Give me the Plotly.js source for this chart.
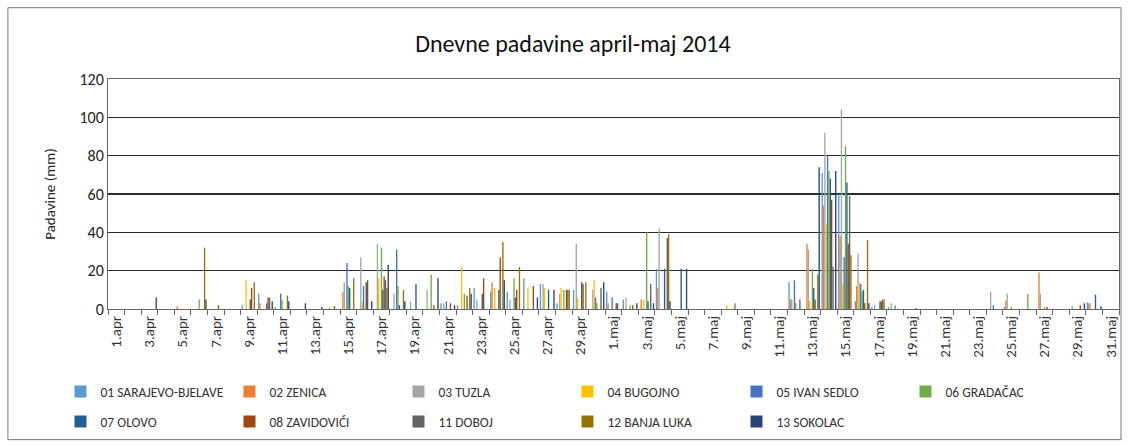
<!DOCTYPE html>
<html>
<head>
<meta charset="utf-8">
<script src="https://cdn.plot.ly/plotly-3.0.1.min.js"></script>
<style>html,body{margin:0;padding:0;background:#fff}#chart{width:1130px;height:446px}</style>
</head>
<body>
<div id="chart"></div>
<script>
// Categories (days)
const days = [
  "1.apr","2.apr","3.apr","4.apr","5.apr","6.apr","7.apr","8.apr","9.apr","10.apr",
  "11.apr","12.apr","13.apr","14.apr","15.apr","16.apr","17.apr","18.apr","19.apr","20.apr",
  "21.apr","22.apr","23.apr","24.apr","25.apr","26.apr","27.apr","28.apr","29.apr","30.apr",
  "1.maj","2.maj","3.maj","4.maj","5.maj","6.maj","7.maj","8.maj","9.maj","10.maj",
  "11.maj","12.maj","13.maj","14.maj","15.maj","16.maj","17.maj","18.maj","19.maj","20.maj",
  "21.maj","22.maj","23.maj","24.maj","25.maj","26.maj","27.maj","28.maj","29.maj","30.maj",
  "31.maj"
];

// Daily precipitation (mm) per station
const sarajevo = [0,0,0,0,0,0,0,0,2,8, 1,0,0,0,0,0,0,0,0,0, 3,2,11,9,9,16,13,3,10,0, 9,5,0,21,0,0,0,0,0,0, 0,14,0,71,60,4,1,1,0,0, 0,0,0,0,1,0,0,0,0,3.5, 0];
const zenica   = [0,0,0,0,1.5,0,0,0,0,3, 0,0,0,0,9,0,0,0,0,0, 0,0,0,14,0,0,0,0,0,0, 3,0,5,11,0,0,0,0,0,0, 0,5,34,54,38,12,0,0,0,0, 0,0,0,0,4.5,0,19,0,1.5,3, 0];
const tuzla    = [0,0,0,0,0,0,0,0,0,0, 0,0,0,0,14,27,34,8,4,10, 3,0,5,0,5,0,13,8,34,10, 0,6,0,42,0,0,0,0,0,0, 0,5,31,92,104,29,2,3,0,0, 0,0,0,9,8,0,8,0,0,3, 0];
const bugojno  = [0,0,0,0,0,0,0,0,15,0, 0,0,0,1,0,4,16,0,0,0, 0,22,0,11,0,11,11,11,6,15, 0,0,5,0,0,0,0,2,0,0, 0,0,4,44,13,14,0,0,0,0, 0,0,0,0,0,0,0,0,0,0, 0];
const ivanSedlo= [0,0,0,0,0,0,0,0,0,0, 8,0,0,0,24,12,0,31,0,0, 4,0,0,0,0,0,0,0,0,6, 6,0,0,0,0,0,0,0,0,0, 0,15,0,80,27,13,0,0,0,0, 0,0,0,2,0,0,0,0,0,0, 0];
const gradacac = [0,0,0,0,0,5,0,0,0,0, 5,0,0,0,12,0,32,12,0,18, 0,8,0,0,16,0,0,10,0,3, 0,2,40,0,0,0,0,0,0,0, 0,3,21,72,85,9,0,2,0,0, 0,0,0,0,1,8,1,0,0,0, 0];
const olovo    = [0,0,0,0,0,0,0,0,5,3, 0,0,0,0,11,14,10,2,13,0, 0,0,8,10,6,0,10,0,14,0, 0,0,4,21,21,0,0,0,0,0, 0,0,11,68,66,10,4,0,0,0, 0,0,0,0,0,0,0,0,0,7.5, 0];
const zavidovici=[0,0,0,0,0,0,2,0,11,6, 0,0,0,1.5,0,15,17,0,0,2, 3,7,16,27,10,12,0,10,13,0, 3,2,0,0,0,0,0,0,0,0, 0,0,5,57,34,3,4,0,0,0, 0,0,0,0,0,0,1,0,2,0, 0];
const doboj    = [0,0,0,0,0,0,0,0,0,6, 0,0,0,0,0,0,15,0,0,0, 0,0,0,0,0,0,0,10,0,11, 3,0,13,37,0,0,0,0,0,0, 0,5,0,22,59,0,5,0,0.5,0, 0,0,0,0,0,0,0,0,0,0, 0];
const banjaLuka= [0,0,0,0,0,32,0,0,14,0, 7,0,0,0,16,0,11,10,0,0, 0,11,0,35,22,0,0,10,14,0, 0,0,0,39,0,0,0,3,0,0, 0,0,18,0,28,36,5,0,0,0, 0,0,0,0,0,0,0,0,0,0, 0];
const sokolac  = [0,0,6,0,0,5,0,0,0,4, 4,3,1,0,0,4,23,4,0,16, 2,8,0,15,0,6,10,0,0,14, 0,3,3,4,21,0,0,0,0,0, 0,0,74,72,0,3,0,0,0,0, 0,0,0,0,0,0,0,0,3,1.5, 0];

const stationNames = ["01 SARAJEVO-BJELAVE","02 ZENICA","03 TUZLA","04 BUGOJNO","05 IVAN SEDLO","06 GRADAČAC","07 OLOVO","08 ZAVIDOVIĆI","11 DOBOJ","12 BANJA LUKA","13 SOKOLAC"];
const stationValues = [sarajevo,zenica,tuzla,bugojno,ivanSedlo,gradacac,olovo,zavidovici,doboj,banjaLuka,sokolac];
const colors = ["#5B9BD5","#ED7D31","#A5A5A5","#FFC000","#4472C4","#70AD47","#255E91","#9E480E","#636363","#997300","#264478"];

const yTicks = [0,20,40,60,80,100,120];

const traces = stationNames.map((n,i)=>({
  type:'bar', name:n, x:days, y:stationValues[i],
  legend: i < 6 ? 'legend' : 'legend2',
  marker:{color:colors[i], line:{width:0}}, hoverinfo:'x+y+name'
}));

const tickText = days.map((d,i)=> i%2===0 ? d : "");

const legendFont = {size:13.5, color:'#333', family:'Carlito, Calibri, "Liberation Sans", sans-serif'};
const legendBase = {orientation:'h', xanchor:'left', yanchor:'middle', entrywidth:124, entrywidthmode:'pixels',
  itemwidth:30, font:legendFont, traceorder:'normal', bgcolor:'rgba(0,0,0,0)', borderwidth:0};

const layout = {
  width:1130, height:446,
  margin:{l:108, r:11, t:79, b:137, autoexpand:false},
  paper_bgcolor:'#ffffff', plot_bgcolor:'#ffffff',
  barmode:'group', bargap:0.1, bargroupgap:0,
  font:{family:'Carlito, Calibri, "Liberation Sans", Arial, sans-serif', color:'#222'},
  title:{text:'Dnevne padavine april-maj 2014', font:{size:24, color:'#111'}, x:0.507, xref:'container', xanchor:'center', y:0.903, yref:'container', yanchor:'middle'},
  xaxis:{type:'category', tickvals:days, ticktext:tickText, tickangle:-90, tickson:'boundaries',
    ticks:'outside', ticklen:5, tickcolor:'#666', tickfont:{size:15, color:'#333'},
    showline:true, linecolor:'#666', linewidth:1, mirror:true, showgrid:false, fixedrange:true, automargin:false},
  yaxis:{range:[0,120], tickvals:yTicks, tickfont:{size:16, color:'#222'},
    showgrid:true, gridcolor:'#2a2a2a', gridwidth:1.5, zeroline:false, automargin:false,
    showline:true, linecolor:'#666', linewidth:1, mirror:true, ticks:'',
    title:{text:'Padavine (mm)', font:{size:15, color:'#222'}, standoff:20}},
  showlegend:true,
  legend:Object.assign({x:-0.047, y:-0.36}, legendBase),
  legend2:Object.assign({x:-0.047, y:-0.49}, legendBase),
  shapes:[{type:'rect', xref:'paper', yref:'paper', x0:-0.099, x1:1.002, y0:-0.568, y1:1.31, line:{color:'#777', width:1}}]
};

Plotly.newPlot('chart', traces, layout, {displayModeBar:false, staticPlot:true});
</script>
</body>
</html>
